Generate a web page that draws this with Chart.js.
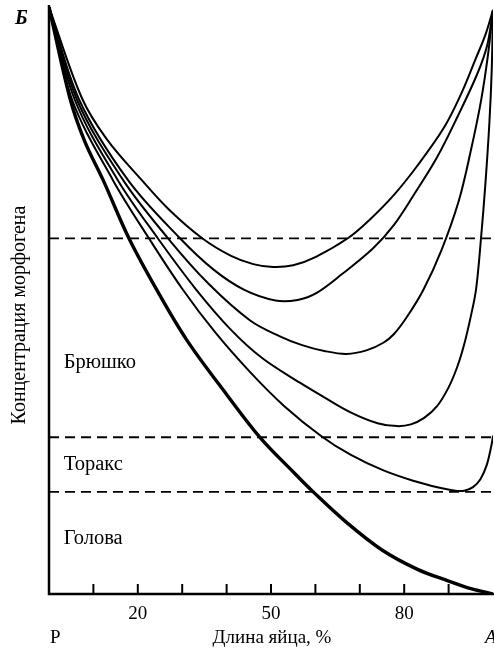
<!DOCTYPE html>
<html>
<head>
<meta charset="utf-8">
<script src="https://cdn.jsdelivr.net/npm/chart.js@4"></script>
<style>
  html, body { margin: 0; padding: 0; background: #fff; }
  #wrap { width: 494px; height: 650px; }
</style>
</head>
<body>
<div id="wrap"><canvas id="chartCanvas" width="494" height="650"></canvas></div>
<script>
// Morphogen gradient curves (x = % of egg length, y = concentration 0..100)

// bold curve: plain gradient
var boldX = [0, 4.7, 8, 12.2, 18, 24.5, 31, 40, 47.5, 55, 59.5, 67, 75, 83, 90, 95, 100]
var boldY = [100, 84.5, 77.2, 70.5, 60.6, 51.5, 43.3, 34, 26.7, 20.8, 17.4, 12.2, 7.5, 4.2, 2.2, 0.9, 0]

// thin U-shaped curves, from the top one down
var curve1X = [0, 7.4, 13, 20.9, 27, 34.5, 41, 46, 50.5, 55, 60, 67.3, 72, 77.7, 83, 89, 93, 96, 98.3, 100]
var curve1Y = [100, 84.5, 77.5, 70.5, 65.5, 60.6, 57.6, 56.2, 55.7, 56, 57.4, 60.6, 63.6, 68, 73, 79.5, 85.5, 91, 95.3, 99.5]

var curve2X = [0, 6.8, 17.8, 29.5, 37, 44, 51, 56, 60.3, 66, 73, 77.7, 82, 87.4, 92, 96.4, 98.7, 100]
var curve2Y = [100, 84.2, 70.5, 60.6, 55.3, 51.8, 50, 50.1, 51.3, 54.5, 58.9, 62.9, 67.8, 74.4, 81.3, 88.5, 93.5, 99.5]

var curve3X = [0, 6.3, 16.7, 26.8, 36, 45.3, 52, 57, 62, 67, 71.5, 75.3, 77.7, 80.6, 84.3, 88.4, 92.3, 95, 97.3, 98.9, 100]
var curve3Y = [100, 84.2, 70.5, 60.6, 52.8, 46.6, 43.9, 42.4, 41.4, 40.9, 41.5, 42.8, 44.3, 47.2, 51.8, 58.6, 67, 75.5, 84, 92, 99.5]

var curve4X = [0, 5.8, 15.5, 24.5, 33, 41, 48, 56.5, 62, 67.8, 74, 78.4, 81.5, 84.5, 87.4, 90, 92, 93.5, 95, 96.2, 97.3, 98.3, 99.2, 99.7, 100]
var curve4Y = [100, 84.2, 70.5, 60.6, 52, 45, 40.2, 36, 33.5, 31, 29.1, 28.6, 28.9, 30, 32, 35.2, 38.8, 42.5, 47.3, 52, 60.6, 70, 80.5, 89, 99.5]

var curve5X = [0, 5.2, 14.4, 22.5, 30, 37.4, 45.3, 53, 61.5, 68, 75.2, 82, 88, 91.5, 93.5, 95.5, 97.2, 98.6, 99.5, 100, 100.8]
var curve5Y = [100, 84.2, 70.5, 60.6, 52, 44.6, 37.8, 32, 26.8, 23.7, 21.1, 19.3, 18.1, 17.6, 17.6, 18.2, 19.6, 22, 24.8, 27, 35]

// region thresholds (dashed lines) and their labels
var thresholds = [60.6, 26.7, 17.4]
var regionLabels = ['Брюшко', 'Торакс', 'Голова']
var regionLabelY = [39.4, 22, 9.5]
var regionLabelX = 3.3

// axis
var xTicks = [10, 20, 30, 40, 50, 60, 70, 80, 90]
var xTickLabels = [20, 50, 80]
var xTitle = 'Длина яйца, %'
var yTitle = 'Концентрация морфогена'

function toPoints(xs, ys) {
    return xs.map((x, i) => ({ x: x, y: ys[i] }))
}

function curve(xs, ys, width) {
    return {
        data: toPoints(xs, ys),
        showLine: true,
        borderColor: '#000',
        borderWidth: width,
        pointRadius: 0,
        tension: 0.35
    }
}

var datasets = [
    curve(boldX, boldY, 3.4),
    curve(curve1X, curve1Y, 2),
    curve(curve2X, curve2Y, 2),
    curve(curve3X, curve3Y, 2),
    curve(curve4X, curve4Y, 2),
    curve(curve5X, curve5Y, 2)
]

thresholds.map(t => {
    datasets.push({
        data: [{ x: 0, y: t }, { x: 100.5, y: t }],
        showLine: true,
        borderColor: '#000',
        borderWidth: 1.8,
        borderDash: [10, 6],
        pointRadius: 0
    })
})

var serif = '"Liberation Serif", "DejaVu Serif", serif'

// draws axes, inward ticks and all the text
var decorations = {
    id: 'decorations',
    afterDraw(chart) {
        var ctx = chart.ctx
        var xs = chart.scales.x
        var ys = chart.scales.y
        var area = chart.chartArea
        ctx.save()
        ctx.strokeStyle = '#000'
        ctx.fillStyle = '#000'

        // axis lines
        ctx.lineWidth = 2.5
        ctx.beginPath()
        ctx.moveTo(area.left, area.top - 2)
        ctx.lineTo(area.left, area.bottom)
        ctx.lineTo(494, area.bottom)
        ctx.stroke()

        // ticks pointing up into the plot
        ctx.lineWidth = 2
        xTicks.map(v => {
            var px = xs.getPixelForValue(v)
            ctx.beginPath()
            ctx.moveTo(px, area.bottom)
            ctx.lineTo(px, area.bottom - 10)
            ctx.stroke()
        })

        ctx.font = '19px ' + serif
        ctx.textAlign = 'center'
        ctx.textBaseline = 'alphabetic'
        xTickLabels.map(v => {
            ctx.fillText(String(v), xs.getPixelForValue(v), 619)
        })
        ctx.fillText(xTitle, 272, 643)

        ctx.textAlign = 'left'
        ctx.fillText('Р', 50, 643)
        ctx.font = 'italic 19px ' + serif
        ctx.fillText('А', 485, 643)

        ctx.font = 'bold italic 20px ' + serif
        ctx.fillText('Б', 15, 24)

        // region labels
        ctx.font = '20.5px ' + serif
        ctx.textBaseline = 'middle'
        regionLabels.map((label, i) => {
            ctx.fillText(label, xs.getPixelForValue(regionLabelX), ys.getPixelForValue(regionLabelY[i]))
        })

        // y title
        ctx.translate(20, 315)
        ctx.rotate(-Math.PI / 2)
        ctx.textAlign = 'center'
        ctx.font = '20px ' + serif
        ctx.fillText(yTitle, 0, 0)
        ctx.restore()
    }
}

var myChart = new Chart(document.getElementById('chartCanvas'), {
    type: 'scatter',
    data: { datasets: datasets },
    options: {
        responsive: false,
        animation: false,
        layout: { padding: { left: 49, top: 7, right: 1, bottom: 56 } },
        plugins: { legend: { display: false }, tooltip: { enabled: false } },
        scales: {
            x: { type: 'linear', min: 0, max: 100, display: false },
            y: { type: 'linear', min: 0, max: 100, display: false }
        }
    },
    plugins: [decorations]
})
</script>
</body>
</html>
